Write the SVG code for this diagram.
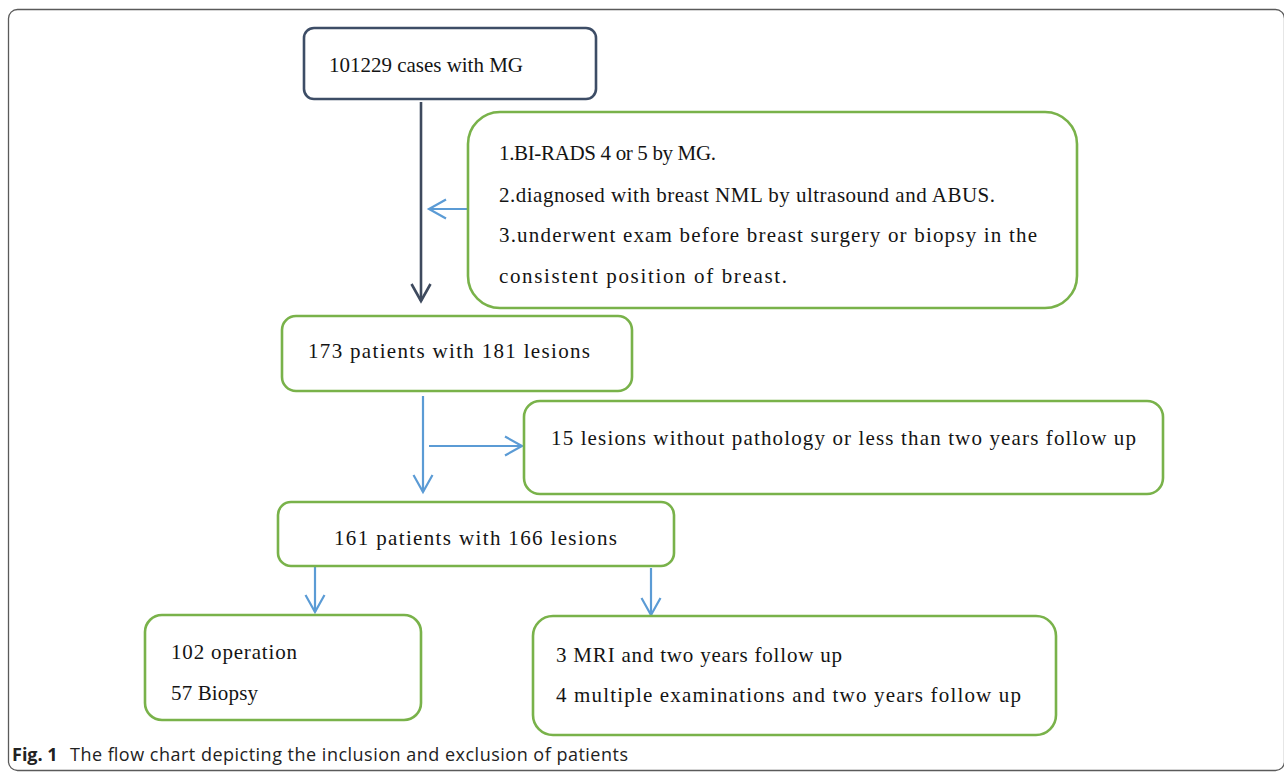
<svg xmlns="http://www.w3.org/2000/svg" width="1284" height="776" viewBox="0 0 1284 776">
  <style>
    .frame { fill: none; stroke: #5a5a5a; stroke-width: 1.3; }
    .gbox { fill: #ffffff; stroke: #79b24a; stroke-width: 2.6; }
    .dbox { fill: #ffffff; stroke: #3d4d66; stroke-width: 2.6; }
    .t { font-family: "Liberation Serif", "Times New Roman", serif; font-size: 21px; fill: #141414; }
    .blue { fill: none; stroke: #5b9bd5; stroke-width: 2.2; }
    .dark { fill: none; stroke: #3e4a5e; stroke-width: 2.6; }
    .cap { font-family: "Open Sans", "Noto Sans", "Liberation Sans", sans-serif; font-size: 18px; fill: #222222; }
  </style>
  <defs>
    <marker id="ahBlue" viewBox="-20 -12 24 24" markerWidth="24" markerHeight="24" refX="0" refY="0" orient="auto" markerUnits="userSpaceOnUse">
      <path d="M-17,-9.5 L0,0 L-17,9.5" fill="none" stroke="#5b9bd5" stroke-width="2.2"/>
    </marker>
    <marker id="ahDark" viewBox="-20 -12 24 24" markerWidth="24" markerHeight="24" refX="0" refY="0" orient="auto" markerUnits="userSpaceOnUse">
      <path d="M-17,-9.5 L0,0 L-17,9.5" fill="none" stroke="#3e4a5e" stroke-width="2.6"/>
    </marker>
  </defs>

  <rect class="frame" x="8.5" y="9.5" width="1276" height="761" rx="9"/>

  <g id="connectors">
    <line class="dark" x1="421" y1="102" x2="421" y2="301" marker-end="url(#ahDark)"/>
    <line class="blue" x1="468" y1="209" x2="429" y2="209" marker-end="url(#ahBlue)"/>
    <line class="blue" x1="423" y1="396" x2="423" y2="492" marker-end="url(#ahBlue)"/>
    <line class="blue" x1="429" y1="446" x2="522" y2="446" marker-end="url(#ahBlue)"/>
    <line class="blue" x1="315" y1="567" x2="315" y2="612" marker-end="url(#ahBlue)"/>
    <line class="blue" x1="651" y1="568" x2="651" y2="615" marker-end="url(#ahBlue)"/>
  </g>

  <g id="node-start">
    <rect class="dbox" x="304" y="28" width="292" height="71" rx="10"/>
    <text class="t" x="329" y="72" textLength="194">101229 cases with MG</text>
  </g>

  <g id="node-criteria">
    <rect class="gbox" x="468" y="112" width="609" height="196" rx="32"/>
    <text class="t" x="499" y="160" textLength="217">1.BI-RADS 4 or 5 by MG.</text>
    <text class="t" x="499" y="202" textLength="496">2.diagnosed with breast NML by ultrasound and ABUS.</text>
    <text class="t" x="499" y="242" textLength="538">3.underwent exam before breast surgery or biopsy in the</text>
    <text class="t" x="499" y="283" textLength="288">consistent position of breast.</text>
  </g>

  <g id="node-173">
    <rect class="gbox" x="282" y="316" width="350" height="75" rx="14"/>
    <text class="t" x="308" y="358" textLength="282">173 patients with 181 lesions</text>
  </g>

  <g id="node-excluded">
    <rect class="gbox" x="524" y="401" width="639" height="93" rx="16"/>
    <text class="t" x="551" y="445" textLength="585">15 lesions without pathology or less than two years follow up</text>
  </g>

  <g id="node-161">
    <rect class="gbox" x="278" y="502" width="396" height="64" rx="13"/>
    <text class="t" x="334" y="545" textLength="283">161 patients with 166 lesions</text>
  </g>

  <g id="node-pathology">
    <rect class="gbox" x="145" y="615" width="276" height="105" rx="17"/>
    <text class="t" x="171" y="659" textLength="126">102 operation</text>
    <text class="t" x="171" y="700" textLength="87">57 Biopsy</text>
  </g>

  <g id="node-followup">
    <rect class="gbox" x="533" y="616" width="523" height="119" rx="20"/>
    <text class="t" x="556" y="662" textLength="286">3 MRI and two years follow up</text>
    <text class="t" x="556" y="702" textLength="465">4 multiple examinations and two years follow up</text>
  </g>

  <g id="caption">
    <text class="cap" x="12" y="761"><tspan font-weight="bold">Fig. 1</tspan></text>
    <text class="cap" x="70" y="761" textLength="558">The flow chart depicting the inclusion and exclusion of patients</text>
  </g>
</svg>
